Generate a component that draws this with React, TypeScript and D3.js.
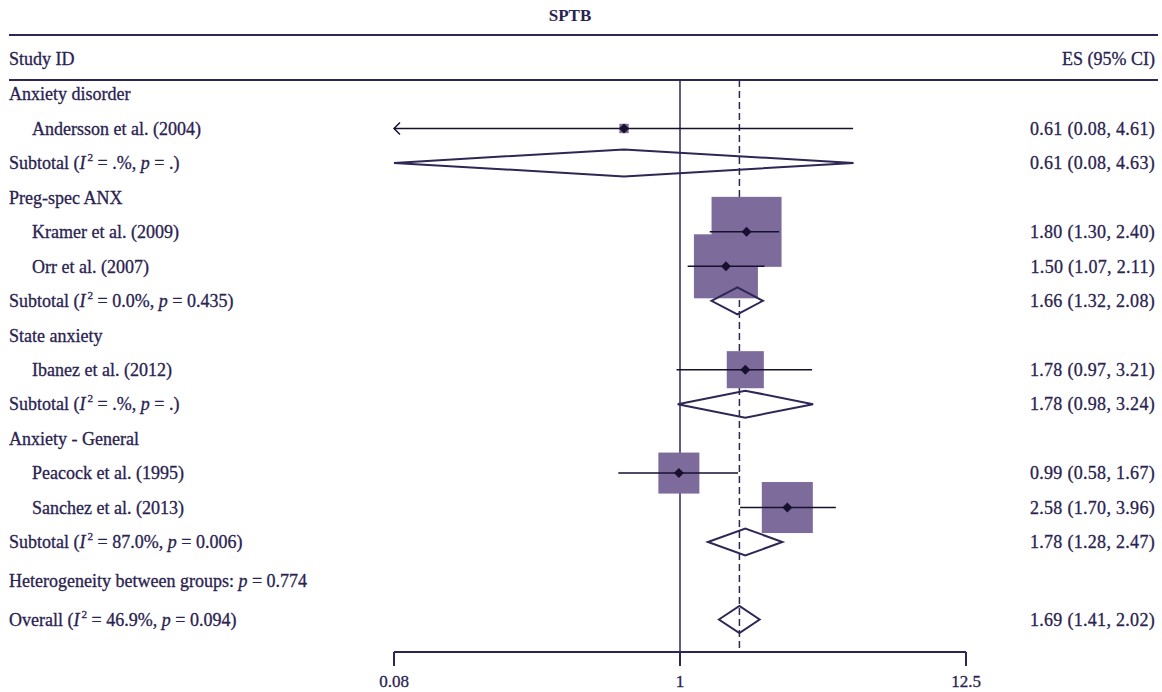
import { useEffect } from "react";
import * as d3 from "d3";

// rows of the forest plot, top to bottom
const labels = [
  "Anxiety disorder",
  "Andersson et al. (2004)",
  "Subtotal",
  "Preg-spec ANX",
  "Kramer et al. (2009)",
  "Orr et al. (2007)",
  "Subtotal",
  "State anxiety",
  "Ibanez et al. (2012)",
  "Subtotal",
  "Anxiety - General",
  "Peacock et al. (1995)",
  "Sanchez et al. (2013)",
  "Subtotal",
  "Heterogeneity between groups:",
  "Overall",
];
const kinds = [
  "group", "study", "subtotal",
  "group", "study", "study", "subtotal",
  "group", "study", "subtotal",
  "group", "study", "study", "subtotal",
  "het", "overall",
];
const es = [null, 0.61, 0.61, null, 1.8, 1.5, 1.66, null, 1.78, 1.78, null, 0.99, 2.58, 1.78, null, 1.69];
const lower = [null, 0.08, 0.08, null, 1.3, 1.07, 1.32, null, 0.97, 0.98, null, 0.58, 1.7, 1.28, null, 1.41];
const upper = [null, 4.61, 4.63, null, 2.4, 2.11, 2.08, null, 3.21, 3.24, null, 1.67, 3.96, 2.47, null, 2.02];
const weights = [null, 0.6, null, null, 33.5, 28.0, null, null, 9.4, null, null, 11.5, 17.8, null, null, null];
const i2 = [null, null, ".%", null, null, null, "0.0%", null, null, ".%", null, null, null, "87.0%", null, "46.9%"];
const pval = [null, null, ".", null, null, null, "0.435", null, null, ".", null, null, null, "0.006", "0.774", "0.094"];

const axisTicks = [0.08, 1, 12.5];
const tickLabels = ["0.08", "1", "12.5"];
const title = "SPTB";

const W = 1162;
const H = 692;
const TEXT = "#2a2350";
const LINE = "#2e2654";
const BOX = "#7d6b9c";
const MARK = "#17102e";
const FONT = "'Liberation Serif', 'Times New Roman', serif";
const FS = 18;

const fmt = (v: number) => v.toFixed(2);

export default function App() {
  useEffect(() => {
    document.body.style.margin = "0";
  }, []);

  const x = d3.scaleLog().domain([0.08, 12.5]).range([394, 966]);
  const step = d3.scaleLinear().domain([0, 13]).range([94, 542]);
  const extra: Record<string, number> = { het: 0.12, overall: 0.25 };
  const yOf = (i: number) => step(i + (extra[kinds[i]] ?? 0));

  const wMax = d3.max(weights.filter((w) => w != null) as number[]) ?? 1;
  const side = d3.scaleSqrt().domain([0, wMax]).range([0, 70]);

  const axisY = 652;
  const headerTop = 35;
  const headerBottom = 80;
  const [xMin, xMax] = x.domain();

  // slightly heavier text, closer to the reference typeface
  const textStyle = { fill: TEXT, stroke: TEXT, strokeWidth: 0.3 };

  const label = (i: number) => {
    const k = kinds[i];
    if (k === "subtotal" || k === "overall") {
      return (
        <>
          {labels[i]} (<tspan fontStyle="italic">I</tspan>
          <tspan fontSize={FS * 0.62} dx={2} dy={-8}>2</tspan>
          <tspan dy={8}> = {i2[i]}, </tspan>
          <tspan fontStyle="italic">p</tspan> = {pval[i]})
        </>
      );
    }
    if (k === "het") {
      return (
        <>
          {labels[i]} <tspan fontStyle="italic">p</tspan> = {pval[i]}
        </>
      );
    }
    return labels[i];
  };

  return (
    <svg width={W} height={H} style={{ display: "block", background: "#fff" }} fontFamily={FONT}>
      <text x={570} y={15} dy="0.35em" textAnchor="middle" fontSize={FS - 1} fontWeight="bold" fill={TEXT}>
        {title}
      </text>
      <line x1={9} x2={1158} y1={headerTop} y2={headerTop} stroke={LINE} strokeWidth={2} />
      <text x={9} y={59} dy="0.35em" fontSize={FS} {...textStyle}>Study ID</text>
      <text x={1155} y={59} dy="0.35em" fontSize={FS} textAnchor="end" {...textStyle}>ES (95% CI)</text>
      <line x1={9} x2={1158} y1={headerBottom} y2={headerBottom} stroke={LINE} strokeWidth={2} />

      {/* null line and overall line */}
      <line x1={x(1)} x2={x(1)} y1={headerBottom} y2={axisY + 14} stroke={LINE} strokeWidth={1.5} />
      <line
        x1={x(es[15] as number)}
        x2={x(es[15] as number)}
        y1={headerBottom}
        y2={axisY}
        stroke={LINE}
        strokeWidth={1.5}
        strokeDasharray="7,4"
      />

      {labels.map((_, i) => {
        const k = kinds[i];
        const y = yOf(i);
        const indent = k === "study" ? 32 : 9;
        return (
          <g key={i}>
            <text x={indent} y={y} dy="0.35em" fontSize={FS} {...textStyle}>
              {label(i)}
            </text>
            {es[i] != null && (
              <text x={1155} y={y} dy="0.35em" fontSize={FS} textAnchor="end" letterSpacing={0.3} {...textStyle}>
                {fmt(es[i] as number)} ({fmt(lower[i] as number)}, {fmt(upper[i] as number)})
              </text>
            )}
          </g>
        );
      })}

      {/* study boxes */}
      {labels.map((_, i) => {
        if (kinds[i] !== "study") return null;
        const s = side(weights[i] as number);
        const cx = x(es[i] as number);
        const y = yOf(i);
        return <rect key={"b" + i} x={cx - s / 2} y={y - s / 2} width={s} height={s} fill={BOX} />;
      })}

      {/* CI lines and point markers */}
      {labels.map((_, i) => {
        if (kinds[i] !== "study") return null;
        const y = yOf(i);
        const lo = Math.max(lower[i] as number, xMin);
        const hi = Math.min(upper[i] as number, xMax);
        const x1 = x(lo);
        const x2 = x(hi);
        const cx = x(es[i] as number);
        const clipped = (lower[i] as number) <= xMin;
        return (
          <g key={"c" + i}>
            <line x1={x1} x2={x2} y1={y} y2={y} stroke={MARK} strokeWidth={1.5} />
            {clipped && (
              <path d={`M${x1 + 6},${y - 6} L${x1},${y} L${x1 + 6},${y + 6}`} fill="none" stroke={MARK} strokeWidth={1.5} />
            )}
            <path d={`M${cx - 5},${y} L${cx},${y - 5} L${cx + 5},${y} L${cx},${y + 5} Z`} fill={MARK} />
          </g>
        );
      })}

      {/* pooled diamonds */}
      {labels.map((_, i) => {
        const k = kinds[i];
        if (k !== "subtotal" && k !== "overall") return null;
        const y = yOf(i);
        const h = 13.5;
        const d = `M${x(lower[i] as number)},${y} L${x(es[i] as number)},${y - h} L${x(upper[i] as number)},${y} L${x(es[i] as number)},${y + h} Z`;
        return <path key={"d" + i} d={d} fill="none" stroke={LINE} strokeWidth={2} strokeLinejoin="miter" />;
      })}

      {/* axis */}
      <line x1={x(xMin)} x2={x(xMax)} y1={axisY} y2={axisY} stroke={LINE} strokeWidth={2} />
      {axisTicks.map((t, i) => (
        <g key={"t" + i}>
          <line x1={x(t)} x2={x(t)} y1={axisY} y2={axisY + 14} stroke={LINE} strokeWidth={2} />
          <text x={x(t)} y={681} dy="0.35em" textAnchor="middle" fontSize={FS - 1} {...textStyle}>
            {tickLabels[i]}
          </text>
        </g>
      ))}
    </svg>
  );
}
